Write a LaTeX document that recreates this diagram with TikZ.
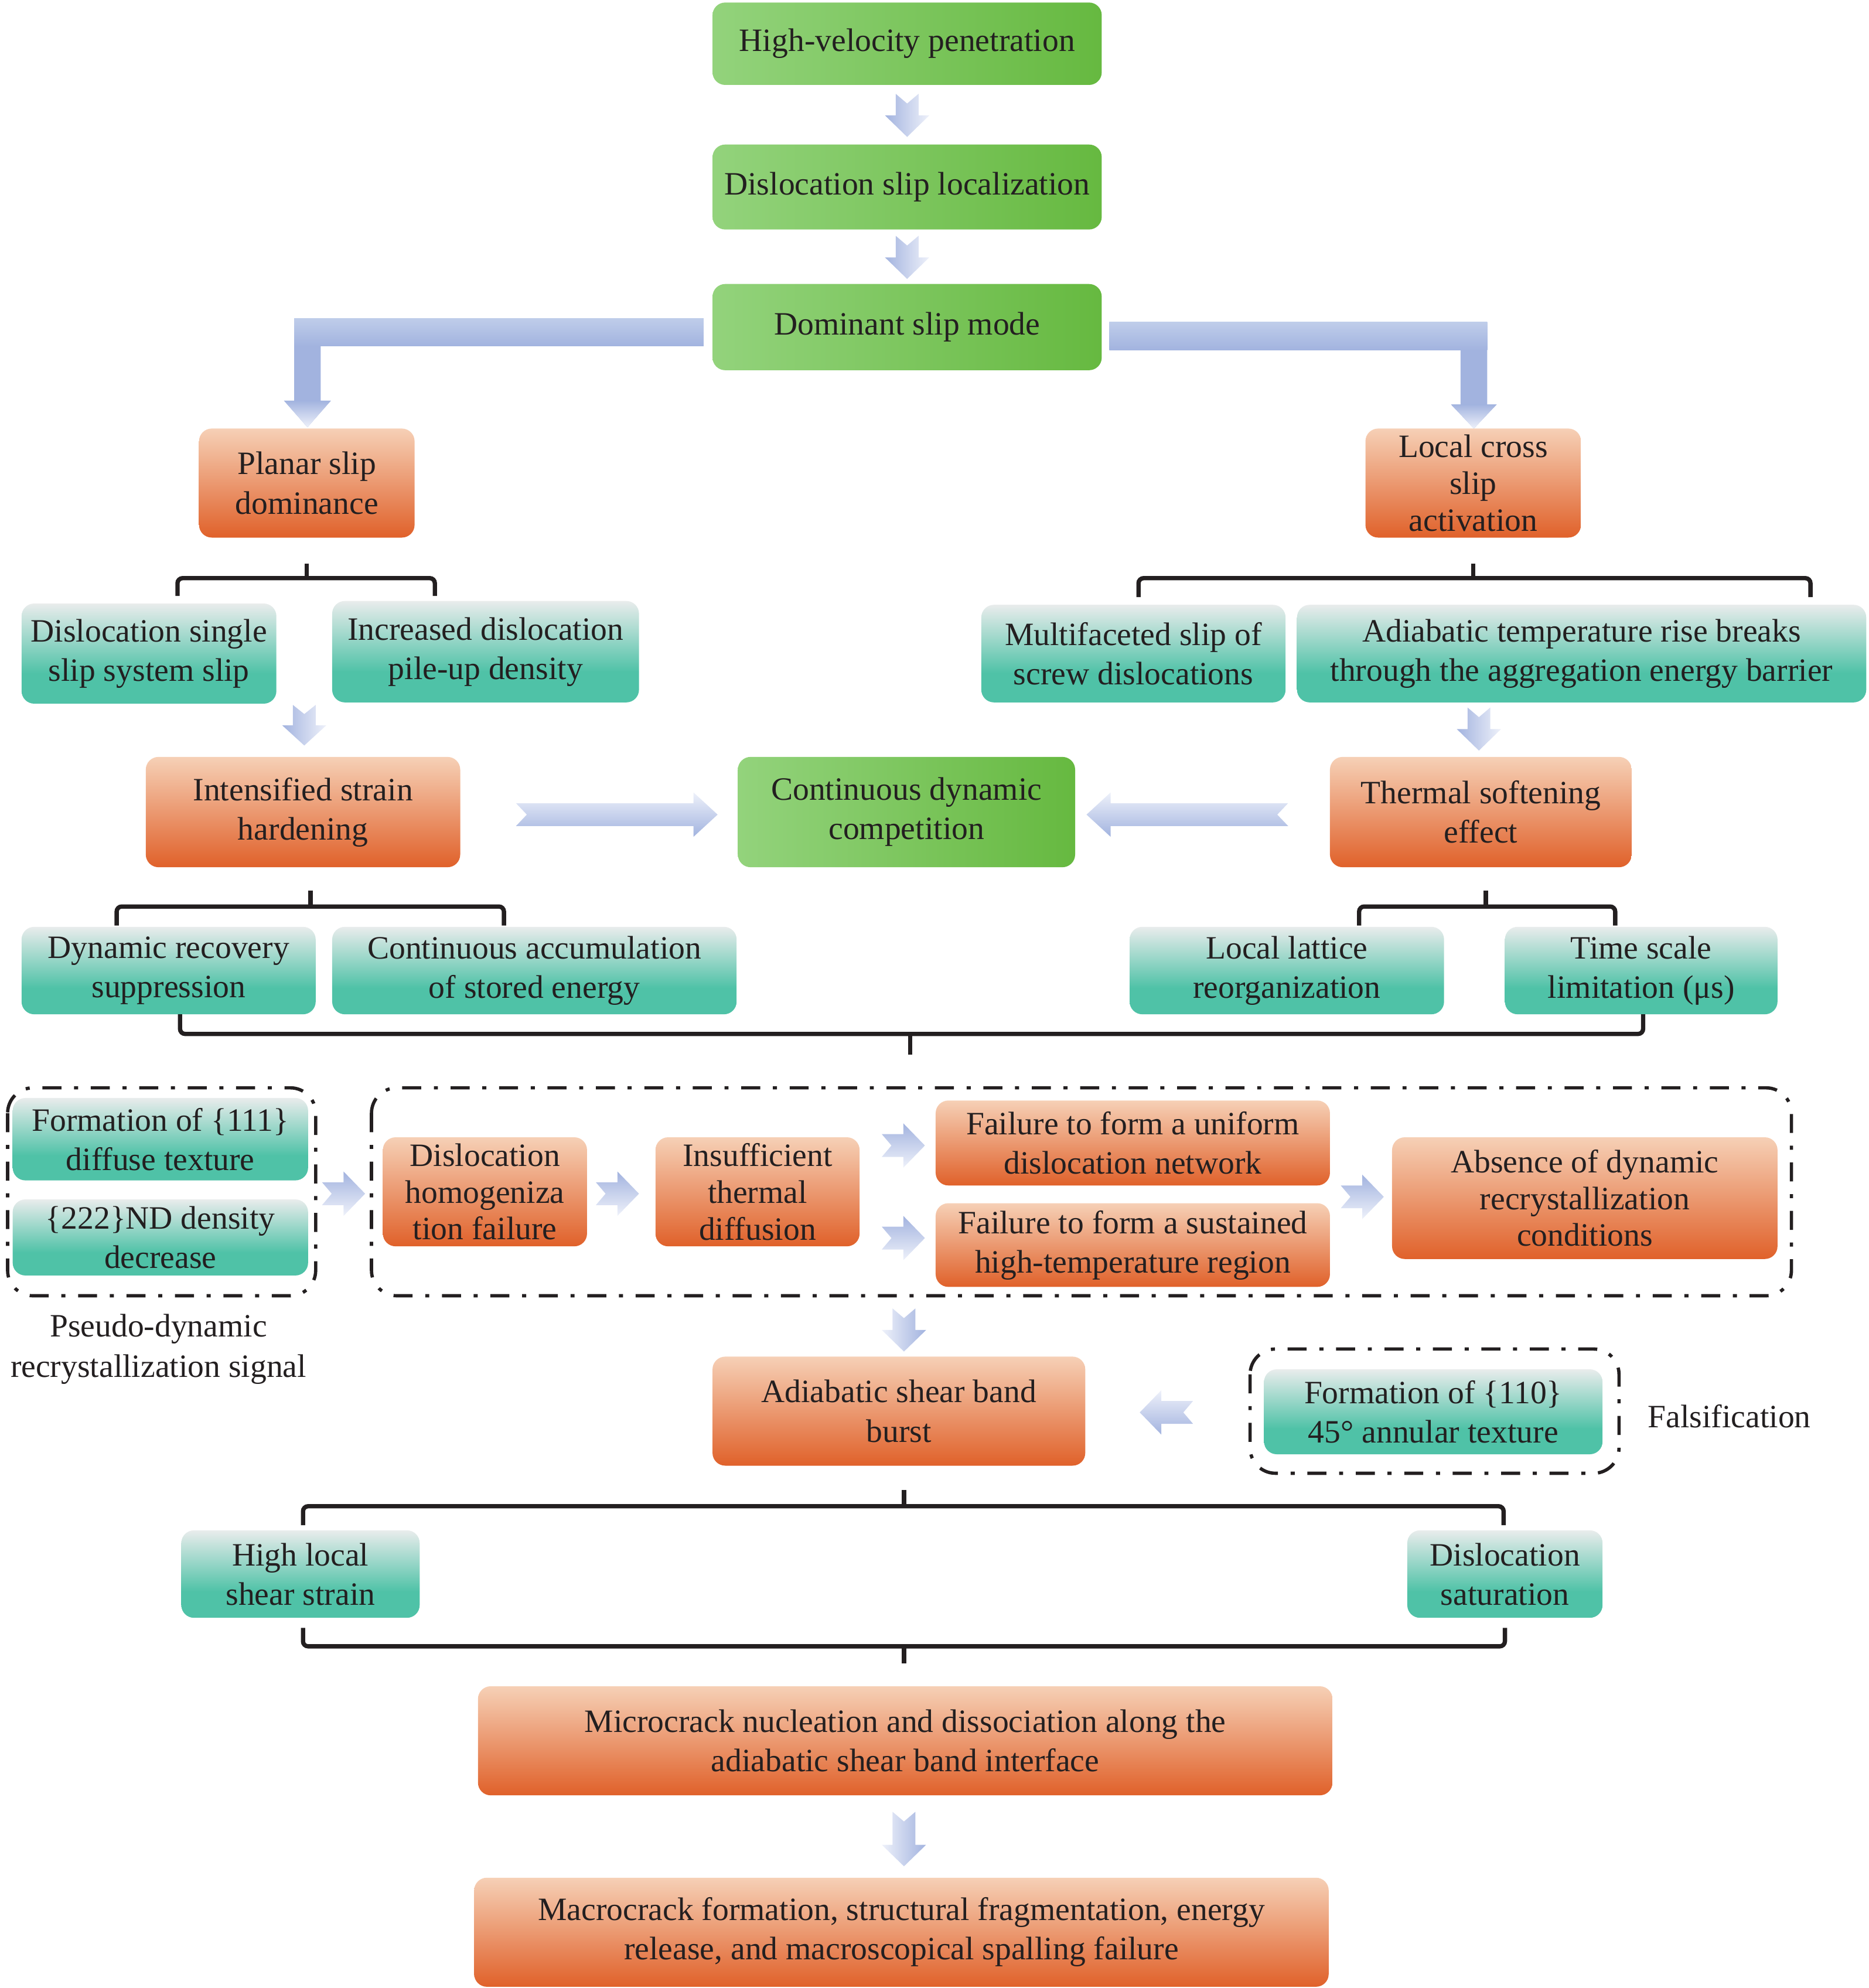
\documentclass[tikz,border=0pt]{standalone}
\usepackage{fontspec}
\setmainfont{Liberation Serif}
\usepackage{tikz}

\definecolor{txt}{HTML}{231F20}
\definecolor{grnL}{HTML}{93D37C}
\definecolor{grnR}{HTML}{66B940}
\definecolor{orgT}{HTML}{F6D0B6}
\definecolor{orgB}{HTML}{E0612A}
\definecolor{tealT}{HTML}{E9ECEC}
\definecolor{tealB}{HTML}{4FC2A7}
\definecolor{arrblue}{HTML}{A2B3DF}
\definecolor{arrlight}{HTML}{EEF1FA}
\definecolor{arrtop}{HTML}{BFCDEA}

\pgfdeclareverticalshading{tealfill}{100bp}{color(0bp)=(tealB); color(25bp)=(tealB); color(40bp)=(tealB); color(75bp)=(tealT); color(100bp)=(tealT)}

\tikzset{
  box/.style={rounded corners=5pt, inner sep=0pt, align=center, text=txt, font=\fontsize{12.85}{15.5}\selectfont},
  greenbox/.style={box, left color=grnL, right color=grnR},
  orgbox/.style={box, top color=orgT, bottom color=orgB},
  tealbox/.style={box, shade, shading=tealfill},
  boxsize/.style 2 args={minimum width=#1, minimum height=#2},
  three/.style={font=\fontsize{12.85}{14.5}\selectfont},
  lbl/.style={align=center, text=txt, font=\fontsize{12.85}{16}\selectfont},
  brk/.style={line width=1.7pt, rounded corners=2pt, color=txt},
  dashbox/.style={line width=1.3pt, dash pattern=on 7.5pt off 5pt on 1.6pt off 5pt, rounded corners=10pt, color=txt},
  blueleft/.style={left color=arrblue, right color=arrlight},
  blueright/.style={left color=arrlight, right color=arrblue},
  bluetop/.style={top color=arrblue, bottom color=arrlight},
  bluebottom/.style={top color=arrlight, bottom color=arrblue},
}

% block arrows: [shading]{centre}{length}{head length}
\newcommand{\arrD}[4][blueleft]{\shade[#1,shift={(#2)}] (-9,-#3/2) -- (0,-#3/2+0.45*#4) -- (9,-#3/2) -- (9,#3/2-#4) -- (17.5,#3/2-#4) -- (0,#3/2) -- (-17.5,#3/2-#4) -- (-9,#3/2-#4) -- cycle;}
\newcommand{\arrR}[4][bluetop]{\shade[#1,shift={(#2)}] (-#3/2,-9) -- (-#3/2+0.45*#4,0) -- (-#3/2,9) -- (#3/2-#4,9) -- (#3/2-#4,17.5) -- (#3/2,0) -- (#3/2-#4,-17.5) -- (#3/2-#4,-9) -- cycle;}
\newcommand{\arrL}[4][bluebottom]{\shade[#1,shift={(#2)}] (#3/2,-9) -- (#3/2-0.45*#4,0) -- (#3/2,9) -- (-#3/2+#4,9) -- (-#3/2+#4,17.5) -- (-#3/2,0) -- (-#3/2+#4,-17.5) -- (-#3/2+#4,-9) -- cycle;}

\begin{document}
\begin{tikzpicture}[x=0.5pt,y=-0.5pt]
\useasboundingbox (0,0) rectangle (1474,1568);

% top chain
\node[greenbox, boxsize={153.5pt}{32.5pt}] (pen) at (715.5,34.5) {High-velocity penetration};
\node[greenbox, boxsize={153.5pt}{33.5pt}] (loc) at (715.5,147.5) {Dislocation slip localization};
\node[greenbox, boxsize={153.5pt}{34pt}] (dom) at (715.5,258) {Dominant slip mode};
\arrD{715.5,91}{34}{17}
\arrD{715.5,203}{34}{17}

% branches
\fill[arrblue] (555,251) -- (232,251) -- (232,316) -- (224,316) -- (242.5,337) -- (261,316) -- (253,316) -- (253,273) -- (555,273) -- cycle;
\shade[top color=arrtop, bottom color=arrblue] (232,251) rectangle (555,273);
\shade[top color=arrblue, middle color=arrblue, bottom color=arrlight] (224,316) -- (261,316) -- (242.5,337) -- cycle;
\fill[arrblue] (875,254) -- (1173,254) -- (1173,319) -- (1180.5,319) -- (1162.5,338) -- (1144.5,319) -- (1152,319) -- (1152,276) -- (875,276) -- cycle;
\shade[top color=arrtop, bottom color=arrblue] (875,254) rectangle (1173,276);
\shade[top color=arrblue, middle color=arrblue, bottom color=arrlight] (1144.5,319) -- (1180.5,319) -- (1162.5,338) -- cycle;

\node[orgbox, boxsize={85pt}{43pt}] (planar) at (242,381) {Planar slip\\dominance};
\node[orgbox, three, boxsize={85pt}{43pt}] (cross) at (1162,381) {Local cross\\slip\\activation};

\draw[brk] ([yshift=-10pt]planar.south) -- ++(0,12);
\draw[brk] (140,470) -- (140,456) -- (343,456) -- (343,470);
\draw[brk] ([yshift=-10pt]cross.south) -- ++(0,12);
\draw[brk] (898,471) -- (898,456) -- (1428,456) -- (1428,471);

\node[tealbox, boxsize={100.5pt}{39.5pt}] (single) at (117.5,515.5) {Dislocation single\\slip system slip};
\node[tealbox, boxsize={121pt}{40pt}] (pileup) at (383,514) {Increased dislocation\\pile-up density};
\node[tealbox, boxsize={120pt}{38.5pt}] (multi) at (894,515.5) {Multifaceted slip of\\screw dislocations};
\node[tealbox, boxsize={224.5pt}{38.5pt}] (adtemp) at (1247.5,515.5) {Adiabatic temperature rise breaks\\through the aggregation energy barrier};

\arrD{240,572}{32}{16}
\arrD{1166.5,575}{34}{17}

% competition row
\node[orgbox, boxsize={124pt}{43.5pt}] (harden) at (239,640.5) {Intensified strain\\hardening};
\node[greenbox, boxsize={133pt}{43.5pt}] (compet) at (715,640.5) {Continuous dynamic\\competition};
\node[orgbox, boxsize={119pt}{43.5pt}] (soften) at (1168,640.5) {Thermal softening\\effect};
\arrR[bluebottom]{486.5,642.5}{159}{19}
\arrL{936.5,642.5}{159}{19}

\draw[brk] ([xshift=3pt,yshift=-9pt]harden.south) -- ++(0,13);
\draw[brk] (92,730) -- (92,715) -- (397.5,715) -- (397.5,730);
\draw[brk] ([xshift=2pt,yshift=-9pt]soften.south) -- ++(0,13);
\draw[brk] (1072,730) -- (1072,715) -- (1274,715) -- (1274,730);

\node[tealbox, boxsize={116pt}{34.5pt}] (drv) at (133,765.5) {Dynamic recovery\\suppression};
\node[tealbox, boxsize={159.5pt}{34.5pt}] (accum) at (421.5,765.5) {Continuous accumulation\\of stored energy};
\node[tealbox, boxsize={124pt}{34.5pt}] (lattice) at (1015,765.5) {Local lattice\\reorganization};
\node[tealbox, boxsize={107.5pt}{34.5pt}] (tscale) at (1294.5,765.5) {Time scale\\limitation (μs)};

\draw[brk] (142,800) -- (142,815.5) -- (1296,815.5) -- (1296,800);
\draw[brk] (718,815.5) -- (718,832);

% failure chain
\draw[dashbox] (6,858) rectangle (249,1022);
\draw[dashbox] (293,858) rectangle (1413,1022);
\node[tealbox, boxsize={116.5pt}{32.5pt}] (tex111) at (126.5,898.5) {Formation of \{111\}\\diffuse texture};
\node[tealbox, boxsize={116.5pt}{30pt}] (nd222) at (126.5,976) {\{222\}ND density\\decrease};
\node[lbl] (pseudo) at (125,1064) {Pseudo-dynamic\\recrystallization signal};

\node[orgbox, three, boxsize={80.5pt}{43pt}] (homog) at (382.5,940) {Dislocation\\homogeniza\\tion failure};
\node[orgbox, three, boxsize={80.5pt}{43pt}] (diffu) at (597.5,940) {Insufficient\\thermal\\diffusion};
\node[orgbox, boxsize={155.5pt}{33.5pt}] (unif) at (893.5,901.5) {Failure to form a uniform\\dislocation network};
\node[orgbox, boxsize={155.5pt}{33pt}] (sust) at (893.5,982) {Failure to form a sustained\\high-temperature region};
\node[orgbox, three, boxsize={152pt}{48pt}] (absdrx) at (1250,945) {Absence of dynamic\\recrystallization\\conditions};
\arrR{271,941.5}{34}{17}
\arrR{487,941.5}{34}{17}
\arrR{712.5,903.5}{34}{17}
\arrR{712.5,976.5}{34}{17}
\arrR{1074.5,944}{34}{17}

% shear band
\arrD[blueright]{713,1049}{34}{17}
\node[orgbox, boxsize={147pt}{43pt}] (asb) at (709,1113) {Adiabatic shear band\\burst};
\draw[dashbox] (986,1064) rectangle (1277,1162);
\node[tealbox, boxsize={133.5pt}{33.5pt}] (tex110) at (1130.5,1113.5) {Formation of \{110\}\\45° annular texture};
\node[lbl] (falsi) at (1364,1117) {Falsification};
\arrL{920,1114}{42}{17}

\draw[brk] ([xshift=2pt,yshift=-9.5pt]asb.south) -- ++(0,13);
\draw[brk] (239,1203) -- (239,1188) -- (1186,1188) -- (1186,1203);
\node[tealbox, boxsize={94pt}{34.5pt}] (shear) at (237,1241.5) {High local\\shear strain};
\node[tealbox, boxsize={77pt}{34.5pt}] (satur) at (1187,1241.5) {Dislocation\\saturation};
\draw[brk] (239,1284) -- (239,1298.5) -- (1187,1298.5) -- (1187,1284);
\draw[brk] (713,1298.5) -- (713,1312);

% cracks
\node[orgbox, boxsize={337pt}{43pt}] (micro) at (714,1373) {Microcrack nucleation and dissociation along the\\adiabatic shear band interface};
\arrD[blueright]{713,1450.5}{43}{17}
\node[orgbox, boxsize={337pt}{43pt}] (macro) at (711,1524) {Macrocrack formation, structural fragmentation, energy\\release, and macroscopical spalling failure};
\end{tikzpicture}
\end{document}
